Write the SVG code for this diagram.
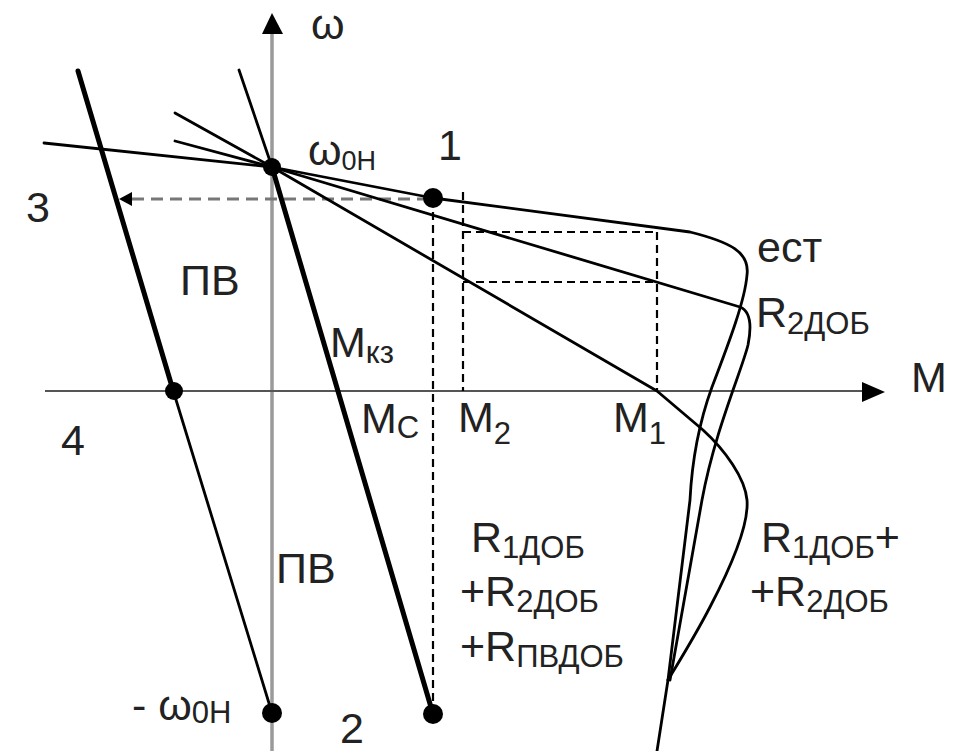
<svg xmlns="http://www.w3.org/2000/svg" width="953" height="751" viewBox="0 0 953 751">
<style>
.t{font-family:"Liberation Sans",Arial,sans-serif;font-size:43px;fill:#222}
.s{font-size:31px}
.ln{fill:none;stroke:#000;stroke-width:2.8;stroke-linejoin:round;stroke-linecap:round}
.thk{fill:none;stroke:#000;stroke-width:5;stroke-linecap:round}
.dash{fill:none;stroke:#000;stroke-width:2.2;stroke-dasharray:8 5}
.pt{fill:#000}
</style>
<rect width="953" height="751" fill="#fff"/>
<g id="axes">
<line x1="272" y1="30" x2="272" y2="751" stroke="#9a9a9a" stroke-width="3.5"/>
<polygon points="272,13 262,34 283,34" fill="#000"/>
<line x1="45" y1="391" x2="866" y2="391" stroke="#555" stroke-width="2.2"/>
<polygon points="885,392 862,382 862,402" fill="#000"/>
</g>
<g id="dashed">
<line x1="132" y1="199" x2="433" y2="199" stroke="#777" stroke-width="3" stroke-dasharray="12 7"/>
<polygon points="119,199 132,192 132,206" fill="#000"/>
<line class="dash" x1="433" y1="199" x2="433" y2="714"/>
<line class="dash" x1="463" y1="192" x2="463" y2="391"/>
<line class="dash" x1="657" y1="232" x2="657" y2="391"/>
<line class="dash" x1="463" y1="232" x2="657" y2="232"/>
<line class="dash" x1="463" y1="282" x2="657" y2="282"/>
</g>
<g id="curves">
<path id="est" class="ln" d="M44,143 L272,167 L433,198 L690,232 C730,242 750,252 747,275 C745,300 730,340 712,387 C700,420 692,460 690,500 L668,680"/>
<path id="r2dob" class="ln" d="M175,141 L272,167 L740,307 C750,311 752,325 748,345 C742,370 715,430 702,500 L670,680"/>
<path id="r1r2" class="ln" d="M175,113 L272,167 L657,391 L703,430 C725,450 745,478 747,500 C749,525 732,565 710,607 C695,636 680,660 668,680"/>
<path class="ln" d="M668,680 L657,751" stroke-width="3.8"/>
<path id="pv" class="thk" d="M78,71 L173,390"/>
<path class="ln" d="M173,390 L272,713"/>
<path class="ln" d="M239,70 L272,167"/>
<path id="mkz" class="thk" d="M272,167 L433,714"/>
</g>
<g id="points">
<circle id="p0" class="pt" cx="272" cy="167" r="9"/>
<circle id="p1" class="pt" cx="433" cy="198" r="10"/>
<circle id="p4" class="pt" cx="174" cy="391" r="9"/>
<circle id="pm" class="pt" cx="272" cy="713" r="10"/>
<circle id="p2" class="pt" cx="433" cy="714" r="10"/>
</g>
<g id="labels">
<text class="t" x="311" y="39" font-size="40">ω</text>
<text class="t" x="308" y="165" font-size="38">ω<tspan font-size="27" dy="5">0Н</tspan></text>
<text class="t" x="438" y="160">1</text>
<text class="t" x="26" y="222">3</text>
<text class="t" x="180" y="295">ПВ</text>
<text class="t" x="330" y="357">M<tspan class="s" dy="6">кз</tspan></text>
<text class="t" x="61" y="455">4</text>
<text class="t" x="361" y="433">M<tspan class="s" dy="5">С</tspan></text>
<text class="t" x="458" y="432">M<tspan class="s" dy="12">2</tspan></text>
<text class="t" x="613" y="432">M<tspan class="s" dy="12">1</tspan></text>
<text class="t" x="911" y="392">M</text>
<text class="t" x="757" y="262">ест</text>
<text class="t" x="756" y="327">R<tspan class="s" dy="7">2ДОБ</tspan></text>
<text class="t" x="276" y="583">ПВ</text>
<text class="t" x="471" y="552">R<tspan class="s" dy="6">1ДОБ</tspan></text>
<text class="t" x="460" y="606">+R<tspan class="s" dy="6">2ДОБ</tspan></text>
<text class="t" x="460" y="661">+R<tspan class="s" dy="6">ПВДОБ</tspan></text>
<text class="t" x="761" y="552">R<tspan class="s" dy="6">1ДОБ</tspan><tspan dy="-6">+</tspan></text>
<text class="t" x="750" y="606">+R<tspan class="s" dy="6">2ДОБ</tspan></text>
<text class="t" x="132" y="720">- ω<tspan class="s" dy="3">0Н</tspan></text>
<text class="t" x="340" y="743">2</text>
</g>
</svg>
